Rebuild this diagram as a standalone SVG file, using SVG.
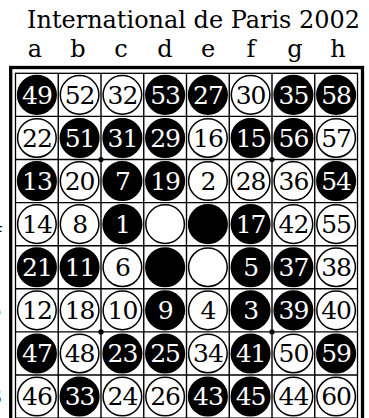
<svg xmlns="http://www.w3.org/2000/svg" width="369" height="418" viewBox="0 0 369 418">
<style>
.t{font-family:"DejaVu Serif","Liberation Serif",serif;fill:#000}
.n{font-family:"DejaVu Serif","Liberation Serif",serif;font-size:25px;text-anchor:middle;letter-spacing:-1px}
.b circle{fill:#000;stroke:#000;stroke-width:1.5}
.b text{fill:#fff}
.w circle{fill:#fff;stroke:#000;stroke-width:1.5}
.w text{fill:#000}
.g{stroke:#000;stroke-width:1.4;fill:none}
.col{font-size:24px;text-anchor:middle}
.row{font-size:22px;text-anchor:end}
</style>
<rect width="369" height="418" fill="#fff"/>
<g id="labels">
<text class="t" x="27" y="28" font-size="23.5" textLength="333" lengthAdjust="spacingAndGlyphs">International de Paris 2002</text>
<text class="t col" x="35" y="57">a</text>
<text class="t col" x="78" y="57">b</text>
<text class="t col" x="121" y="57">c</text>
<text class="t col" x="165" y="57">d</text>
<text class="t col" x="208" y="57">e</text>
<text class="t col" x="251" y="57">f</text>
<text class="t col" x="295" y="57">g</text>
<text class="t col" x="338" y="57">h</text>
<text class="t row" x="1" y="103">1</text>
<text class="t row" x="1" y="146">2</text>
<text class="t row" x="1" y="189">3</text>
<text class="t row" x="3" y="232">4</text>
<text class="t row" x="1" y="275">5</text>
<text class="t row" x="1.5" y="318">6</text>
<text class="t row" x="1" y="361">7</text>
<text class="t row" x="2" y="404">8</text>
</g>
<g id="board">
<rect x="10.7" y="67.5" width="351.8" height="380" fill="none" stroke="#000" stroke-width="3.3"/>
<rect x="15.5" y="73.3" width="342" height="344.8" fill="none" stroke="#000" stroke-width="1.3"/>
<path class="g" d="M58.25 73.3V418M101 73.3V418M143.75 73.3V418M186.5 73.3V418M229.25 73.3V418M272 73.3V418M314.75 73.3V418M15.5 116.4H357.5M15.5 159.5H357.5M15.5 202.6H357.5M15.5 245.7H357.5M15.5 288.8H357.5M15.5 331.9H357.5M15.5 375H357.5"/>
<circle cx="101" cy="159.5" r="2.6"/>
<circle cx="272" cy="159.5" r="2.6"/>
<circle cx="101" cy="331.9" r="2.6"/>
<circle cx="272" cy="331.9" r="2.6"/>
</g>
<g id="connectors"/>
<g id="discs" class="n">
<!-- row 1 -->
<g id="a1" class="b"><circle cx="36.9" cy="94.85" r="19.3"/><text x="36.9" y="103.6">49</text></g>
<g id="b1" class="w"><circle cx="79.6" cy="94.85" r="19.3"/><text x="79.6" y="103.6">52</text></g>
<g id="c1" class="w"><circle cx="122.4" cy="94.85" r="19.3"/><text x="122.4" y="103.6">32</text></g>
<g id="d1" class="b"><circle cx="165.1" cy="94.85" r="19.3"/><text x="165.1" y="103.6">53</text></g>
<g id="e1" class="b"><circle cx="207.9" cy="94.85" r="19.3"/><text x="207.9" y="103.6">27</text></g>
<g id="f1" class="w"><circle cx="250.6" cy="94.85" r="19.3"/><text x="250.6" y="103.6">30</text></g>
<g id="g1" class="b"><circle cx="293.4" cy="94.85" r="19.3"/><text x="293.4" y="103.6">35</text></g>
<g id="h1" class="b"><circle cx="336.1" cy="94.85" r="19.3"/><text x="336.1" y="103.6">58</text></g>
<!-- row 2 -->
<g id="a2" class="w"><circle cx="36.9" cy="137.95" r="19.3"/><text x="36.9" y="146.7">22</text></g>
<g id="b2" class="b"><circle cx="79.6" cy="137.95" r="19.3"/><text x="79.6" y="146.7">51</text></g>
<g id="c2" class="b"><circle cx="122.4" cy="137.95" r="19.3"/><text x="122.4" y="146.7">31</text></g>
<g id="d2" class="b"><circle cx="165.1" cy="137.95" r="19.3"/><text x="165.1" y="146.7">29</text></g>
<g id="e2" class="w"><circle cx="207.9" cy="137.95" r="19.3"/><text x="207.9" y="146.7">16</text></g>
<g id="f2" class="b"><circle cx="250.6" cy="137.95" r="19.3"/><text x="250.6" y="146.7">15</text></g>
<g id="g2" class="b"><circle cx="293.4" cy="137.95" r="19.3"/><text x="293.4" y="146.7">56</text></g>
<g id="h2" class="w"><circle cx="336.1" cy="137.95" r="19.3"/><text x="336.1" y="146.7">57</text></g>
<!-- row 3 -->
<g id="a3" class="b"><circle cx="36.9" cy="181.05" r="19.3"/><text x="36.9" y="189.8">13</text></g>
<g id="b3" class="w"><circle cx="79.6" cy="181.05" r="19.3"/><text x="79.6" y="189.8">20</text></g>
<g id="c3" class="b"><circle cx="122.4" cy="181.05" r="19.3"/><text x="122.4" y="189.8">7</text></g>
<g id="d3" class="b"><circle cx="165.1" cy="181.05" r="19.3"/><text x="165.1" y="189.8">19</text></g>
<g id="e3" class="w"><circle cx="207.9" cy="181.05" r="19.3"/><text x="207.9" y="189.8">2</text></g>
<g id="f3" class="w"><circle cx="250.6" cy="181.05" r="19.3"/><text x="250.6" y="189.8">28</text></g>
<g id="g3" class="w"><circle cx="293.4" cy="181.05" r="19.3"/><text x="293.4" y="189.8">36</text></g>
<g id="h3" class="b"><circle cx="336.1" cy="181.05" r="19.3"/><text x="336.1" y="189.8">54</text></g>
<!-- row 4 -->
<g id="a4" class="w"><circle cx="36.9" cy="224.15" r="19.3"/><text x="36.9" y="232.9">14</text></g>
<g id="b4" class="w"><circle cx="79.6" cy="224.15" r="19.3"/><text x="79.6" y="232.9">8</text></g>
<g id="c4" class="b"><circle cx="122.4" cy="224.15" r="19.3"/><text x="122.4" y="232.9">1</text></g>
<g id="d4" class="w"><circle cx="165.1" cy="224.15" r="19.3"/></g>
<g id="e4" class="b"><circle cx="207.9" cy="224.15" r="19.3"/></g>
<g id="f4" class="b"><circle cx="250.6" cy="224.15" r="19.3"/><text x="250.6" y="232.9">17</text></g>
<g id="g4" class="w"><circle cx="293.4" cy="224.15" r="19.3"/><text x="293.4" y="232.9">42</text></g>
<g id="h4" class="w"><circle cx="336.1" cy="224.15" r="19.3"/><text x="336.1" y="232.9">55</text></g>
<!-- row 5 -->
<g id="a5" class="b"><circle cx="36.9" cy="267.25" r="19.3"/><text x="36.9" y="276">21</text></g>
<g id="b5" class="b"><circle cx="79.6" cy="267.25" r="19.3"/><text x="79.6" y="276">11</text></g>
<g id="c5" class="w"><circle cx="122.4" cy="267.25" r="19.3"/><text x="122.4" y="276">6</text></g>
<g id="d5" class="b"><circle cx="165.1" cy="267.25" r="19.3"/></g>
<g id="e5" class="w"><circle cx="207.9" cy="267.25" r="19.3"/></g>
<g id="f5" class="b"><circle cx="250.6" cy="267.25" r="19.3"/><text x="250.6" y="276">5</text></g>
<g id="g5" class="b"><circle cx="293.4" cy="267.25" r="19.3"/><text x="293.4" y="276">37</text></g>
<g id="h5" class="w"><circle cx="336.1" cy="267.25" r="19.3"/><text x="336.1" y="276">38</text></g>
<!-- row 6 -->
<g id="a6" class="w"><circle cx="36.9" cy="310.35" r="19.3"/><text x="36.9" y="319.1">12</text></g>
<g id="b6" class="w"><circle cx="79.6" cy="310.35" r="19.3"/><text x="79.6" y="319.1">18</text></g>
<g id="c6" class="w"><circle cx="122.4" cy="310.35" r="19.3"/><text x="122.4" y="319.1">10</text></g>
<g id="d6" class="b"><circle cx="165.1" cy="310.35" r="19.3"/><text x="165.1" y="319.1">9</text></g>
<g id="e6" class="w"><circle cx="207.9" cy="310.35" r="19.3"/><text x="207.9" y="319.1">4</text></g>
<g id="f6" class="b"><circle cx="250.6" cy="310.35" r="19.3"/><text x="250.6" y="319.1">3</text></g>
<g id="g6" class="b"><circle cx="293.4" cy="310.35" r="19.3"/><text x="293.4" y="319.1">39</text></g>
<g id="h6" class="w"><circle cx="336.1" cy="310.35" r="19.3"/><text x="336.1" y="319.1">40</text></g>
<!-- row 7 -->
<g id="a7" class="b"><circle cx="36.9" cy="353.45" r="19.3"/><text x="36.9" y="362.2">47</text></g>
<g id="b7" class="w"><circle cx="79.6" cy="353.45" r="19.3"/><text x="79.6" y="362.2">48</text></g>
<g id="c7" class="b"><circle cx="122.4" cy="353.45" r="19.3"/><text x="122.4" y="362.2">23</text></g>
<g id="d7" class="b"><circle cx="165.1" cy="353.45" r="19.3"/><text x="165.1" y="362.2">25</text></g>
<g id="e7" class="w"><circle cx="207.9" cy="353.45" r="19.3"/><text x="207.9" y="362.2">34</text></g>
<g id="f7" class="b"><circle cx="250.6" cy="353.45" r="19.3"/><text x="250.6" y="362.2">41</text></g>
<g id="g7" class="w"><circle cx="293.4" cy="353.45" r="19.3"/><text x="293.4" y="362.2">50</text></g>
<g id="h7" class="b"><circle cx="336.1" cy="353.45" r="19.3"/><text x="336.1" y="362.2">59</text></g>
<!-- row 8 -->
<g id="a8" class="w"><circle cx="36.9" cy="396.55" r="19.3"/><text x="36.9" y="405.3">46</text></g>
<g id="b8" class="b"><circle cx="79.6" cy="396.55" r="19.3"/><text x="79.6" y="405.3">33</text></g>
<g id="c8" class="w"><circle cx="122.4" cy="396.55" r="19.3"/><text x="122.4" y="405.3">24</text></g>
<g id="d8" class="w"><circle cx="165.1" cy="396.55" r="19.3"/><text x="165.1" y="405.3">26</text></g>
<g id="e8" class="b"><circle cx="207.9" cy="396.55" r="19.3"/><text x="207.9" y="405.3">43</text></g>
<g id="f8" class="b"><circle cx="250.6" cy="396.55" r="19.3"/><text x="250.6" y="405.3">45</text></g>
<g id="g8" class="w"><circle cx="293.4" cy="396.55" r="19.3"/><text x="293.4" y="405.3">44</text></g>
<g id="h8" class="w"><circle cx="336.1" cy="396.55" r="19.3"/><text x="336.1" y="405.3">60</text></g>
</g>
</svg>
